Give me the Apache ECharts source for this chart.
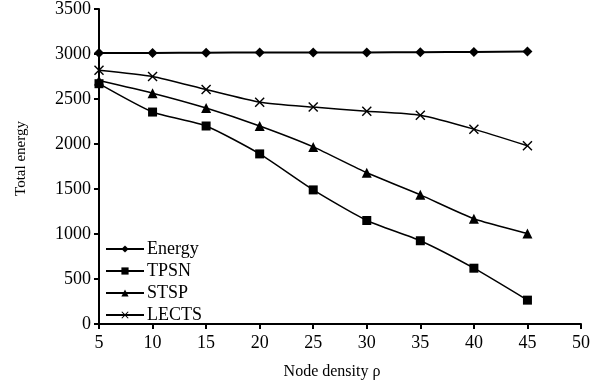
<!DOCTYPE html>
<html><head><meta charset="utf-8">
<script src="https://cdn.jsdelivr.net/npm/echarts@6/dist/echarts.min.js"></script>
<style>html,body{margin:0;padding:0;background:#fff}#c{width:597px;height:385px}</style>
</head><body><div id="c"></div>
<script>
var xValues = [5, 10, 15, 20, 25, 30, 35, 40, 45];
var energy = [3010, 3012, 3015, 3018, 3018, 3018, 3020, 3022, 3028];
var tpsn   = [2670, 2355, 2200, 1890, 1490, 1150, 925, 620, 265];
var stsp   = [2705, 2565, 2400, 2200, 1968, 1680, 1435, 1170, 1005];
var lects  = [2820, 2750, 2605, 2465, 2410, 2365, 2320, 2165, 1980];
var seriesNames = ['Energy', 'TPSN', 'STSP', 'LECTS'];

var crossPath = 'path://M0,1L1,0L5,4L9,0L10,1L6,5L10,9L9,10L5,6L1,10L0,9L4,5Z';
function pts(arr){ return xValues.map(function(x,i){ return [x, arr[i]]; }); }
var font = 'Liberation Serif';
function mk(name, data, symbol, size){
  return {name:name, type:'line', data:pts(data), symbol:symbol, symbolSize:size,
    smooth:0.2, lineStyle:{color:'#000', width: name==='Energy'?2:1.5},
    itemStyle:{color:'#000'}};
}
var chart = echarts.init(document.getElementById('c'), null, {renderer:'canvas'});
chart.setOption({
  animation:false,
  backgroundColor:'#fff',
  grid:{left:99, right:16, top:8, bottom:60},
  legend:{orient:'vertical', left:105, top:240, padding:0, itemWidth:38, itemHeight:9, itemGap:4,
    textStyle:{fontFamily:font, fontSize:18, lineHeight:18, color:'#000', padding:[0,0,0,-2]},
    data:seriesNames},
  xAxis:{type:'value', min:5, max:50, interval:5,
    name:'Node density ρ', nameLocation:'middle', nameGap:40,
    nameTextStyle:{fontFamily:font, fontSize:16, color:'#000', padding:[0,16,0,0]},
    axisLine:{lineStyle:{color:'#000', width:2}},
    axisTick:{length:5, lineStyle:{color:'#000', width:2}},
    axisLabel:{fontFamily:font, fontSize:18, color:'#000', margin:10,
      formatter:function(v){return String(v);}},
    splitLine:{show:false}},
  yAxis:{type:'value', min:0, max:3500, interval:500,
    name:'Total energy', nameLocation:'middle', nameGap:70,
    nameTextStyle:{fontFamily:font, fontSize:15, color:'#000', padding:[0,0,0,16]},
    axisLine:{show:true, lineStyle:{color:'#000', width:2}},
    axisTick:{show:true, length:5, lineStyle:{color:'#000', width:2}},
    axisLabel:{fontFamily:font, fontSize:18, color:'#000', margin:8,
      formatter:function(v){return String(v);}},
    splitLine:{show:false}},
  series:[
    mk('Energy', energy, 'diamond', 10),
    mk('TPSN', tpsn, 'rect', 9),
    mk('STSP', stsp, 'triangle', 10),
    mk('LECTS', lects, crossPath, 10)
  ]
});
</script></body></html>
